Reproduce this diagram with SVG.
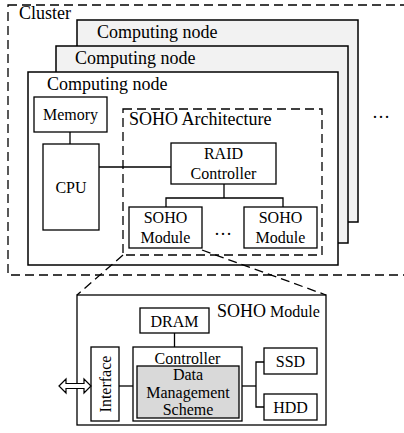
<svg xmlns="http://www.w3.org/2000/svg" width="404" height="433" viewBox="0 0 404 433" font-family="'Liberation Serif','Times New Roman',Times,serif">
<style>
text{font-family:"Liberation Serif","Times New Roman",Times,serif;fill:#000}
.t18{font-size:18px}
.t16{font-size:16px}
.mid{text-anchor:middle}
.box{fill:#fff;stroke:#000;stroke-width:1.3}
.node{stroke:#000;stroke-width:1.5}
.dash{fill:none;stroke:#000;stroke-width:1.3;stroke-dasharray:9,5}
.ln{fill:none;stroke:#000;stroke-width:1.3}
</style>
<g id="cluster">
<rect class="dash" x="8" y="5" width="410" height="270"/>
<text class="t18" x="19" y="19">Cluster</text>
</g>
<g id="node3">
<rect class="node" x="77" y="20" width="281" height="202" fill="#f2f2f2"/>
<text class="t18" x="97" y="38">Computing node</text>
</g>
<g id="node2">
<rect class="node" x="56" y="46" width="292" height="197" fill="#f2f2f2"/>
<text class="t18" x="75" y="64">Computing node</text>
</g>
<g id="node1">
<rect class="node" x="28" y="72" width="310" height="193" fill="#fff"/>
<text class="t18" x="47" y="90">Computing node</text>
</g>
<g id="ellipsis-nodes"><text class="t18 mid" x="381" y="118">…</text></g>
<g id="soho-arch">
<rect class="dash" x="123" y="109" width="199" height="146"/>
<text class="t18" x="129" y="125">SOHO Architecture</text>
</g>
<g id="memory">
<rect class="box" x="34" y="97" width="73" height="35"/>
<text class="t16 mid" x="70.5" y="120">Memory</text>
</g>
<g id="cpu">
<rect class="box" x="43" y="144" width="56" height="86"/>
<text class="t16 mid" x="71" y="193">CPU</text>
</g>
<g id="raid">
<rect class="box" x="171" y="143" width="105" height="41"/>
<text class="t16 mid" x="223.5" y="159">RAID</text>
<text class="t16 mid" x="223.5" y="179">Controller</text>
</g>
<g id="soho1">
<rect class="box" x="129" y="207" width="73" height="41"/>
<text class="t16 mid" x="165.5" y="223">SOHO</text>
<text class="t16 mid" x="165.5" y="243">Module</text>
</g>
<g id="ellipsis-modules"><text class="t18 mid" x="223" y="235">…</text></g>
<g id="soho2">
<rect class="box" x="244" y="207" width="73" height="41"/>
<text class="t16 mid" x="280.5" y="223">SOHO</text>
<text class="t16 mid" x="280.5" y="243">Module</text>
</g>
<g id="soho-module-detail">
<rect class="box" x="77" y="295" width="249" height="130"/>
<text x="217" y="317"><tspan font-size="18">SOHO</tspan><tspan font-size="16"> Module</tspan></text>
</g>
<g id="dram">
<rect class="box" x="140" y="308" width="69" height="25"/>
<text class="t16 mid" x="174.5" y="327">DRAM</text>
</g>
<g id="interface">
<rect class="box" x="91" y="347" width="28" height="74"/>
<text class="t16 mid" transform="translate(110.5,384) rotate(-90)" x="0" y="0">Interface</text>
</g>
<g id="controller">
<rect class="box" x="133" y="347" width="109" height="74"/>
<text class="t16 mid" x="187.5" y="364">Controller</text>
<rect x="137" y="366" width="102" height="52" fill="#d9d9d9" stroke="#000" stroke-width="1.3"/>
<text class="t16 mid" x="188" y="380">Data</text>
<text class="t16 mid" x="188" y="398">Management</text>
<text class="t16 mid" x="188" y="415">Scheme</text>
</g>
<g id="ssd">
<rect class="box" x="264" y="348" width="53" height="26"/>
<text class="t16 mid" x="290.5" y="367">SSD</text>
</g>
<g id="hdd">
<rect class="box" x="264" y="394" width="53" height="26"/>
<text class="t16 mid" x="290.5" y="413">HDD</text>
</g>
<g id="connectors">
<line class="ln" x1="70" y1="132" x2="70" y2="144"/>
<line class="ln" x1="99" y1="167" x2="171" y2="167"/>
<polyline class="ln" points="224,184 224,198"/>
<polyline class="ln" points="166,207 166,198 283,198 283,207"/>
<line class="dash" x1="123" y1="255" x2="77" y2="295"/>
<line class="dash" x1="202" y1="250" x2="326" y2="295"/>
<line class="ln" x1="174.5" y1="333" x2="174.5" y2="347"/>
<line class="ln" x1="119" y1="386" x2="133" y2="386"/>
<line class="ln" x1="242" y1="386" x2="256" y2="386"/>
<polyline class="ln" points="264,362 256,362 256,407 264,407"/>
<polygon points="59,386 66,379 66,383.5 84,383.5 84,379 91,386 84,393 84,388.5 66,388.5 66,393" fill="#fff" stroke="#000" stroke-width="1.2"/>
</g>
</svg>
